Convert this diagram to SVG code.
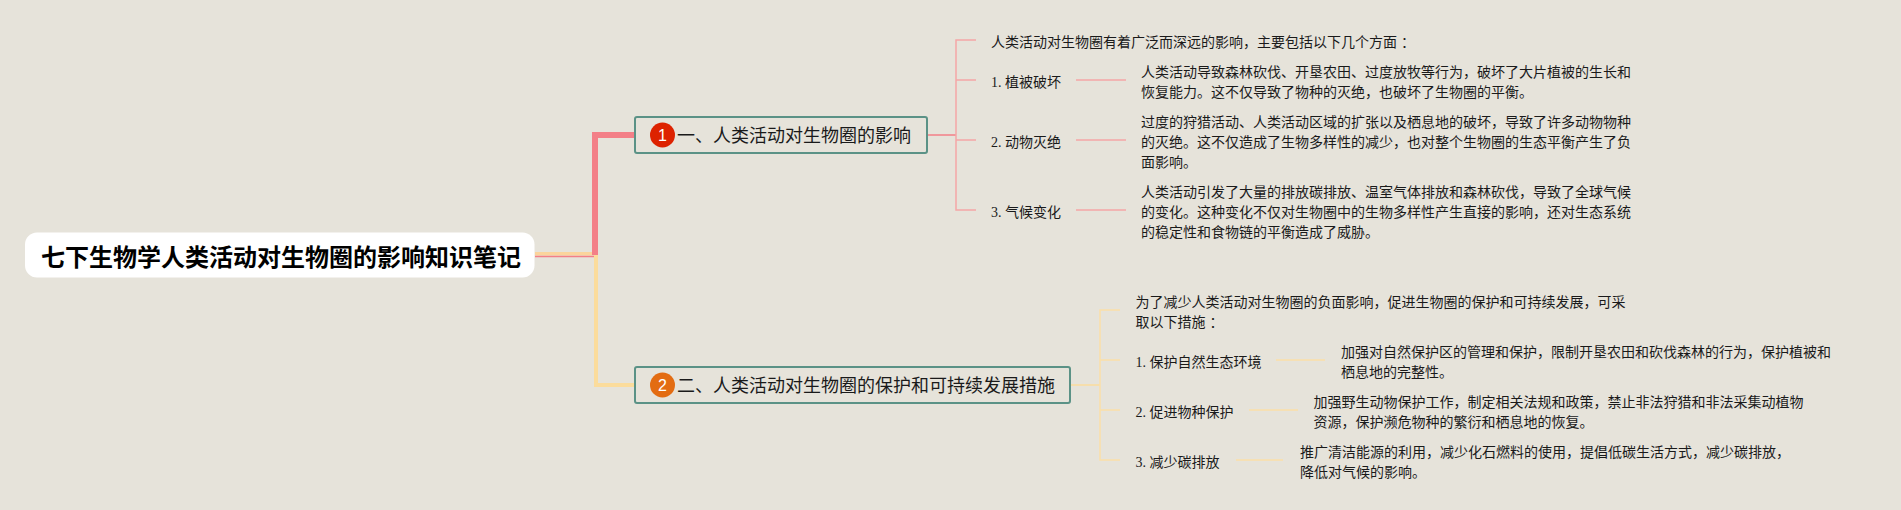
<svg xmlns="http://www.w3.org/2000/svg" width="1901" height="510" viewBox="0 0 1901 510">
<style>
text{font-family:"Noto Sans CJK SC","Liberation Sans",sans-serif;fill:#1a1a1a}
.t{font-size:14px}
.b{font-size:18px}
.r{font-size:24px;font-weight:700;fill:#000}
.box{fill:#e6e3da;stroke:#5b9286;stroke-width:2}
.n{font-family:"Liberation Sans",sans-serif;font-size:16px;fill:#fff;text-anchor:middle}
.d{font-family:"Liberation Serif",serif}
.p{fill:none;stroke:#f5a6a6;stroke-width:1.5}
.y{fill:none;stroke:#fbe0a8;stroke-width:1.5}
</style>
<rect width="1901" height="510" fill="#e6e3da"/>
<g id="connectors">
<path d="M535 253.800H595" fill="none" stroke="#fbd49c" stroke-width="3.500"/>
<path d="M535 256.500H597" fill="none" stroke="#f37f87" stroke-width="1.500"/>
<path d="M596 255V385H635" fill="none" stroke="#fbdc9c" stroke-width="4"/>
<path d="M595 255V135H635" fill="none" stroke="#f37f87" stroke-width="6"/>
<path d="M927 135H956" fill="none" stroke="#f37f87" stroke-width="1.500"/>
<path class="p" d="M976 40H956V210H976M956 80H976M956 140H976M1076 80H1126M1076 140H1126M1076 210H1126"/>
<path d="M1070 385H1100" fill="none" stroke="#fbdc9c" stroke-width="1.500"/>
<path class="y" d="M1120 310H1100V460H1120M1100 360H1120M1100 410H1120M1276 360H1325M1249 410H1298M1236 460H1283"/>
</g>
<g id="root">
<rect x="25" y="232.500" width="509.500" height="45" rx="12" fill="#fff"/>
<text class="r" x="41" y="265.500">七下生物学人类活动对生物圈的影响知识笔记</text>
</g>
<g id="branch1">
<rect class="box" x="635" y="117" width="292" height="36" rx="2"/>
<circle cx="662.500" cy="135" r="12.500" fill="#dd2200"/>
<text class="n" x="662.500" y="141">1</text>
<text class="b" x="677" y="142">一、人类活动对生物圈的影响</text>
</g>
<g id="branch2">
<rect class="box" x="635" y="367" width="435" height="36" rx="2"/>
<circle cx="662.500" cy="385" r="12.500" fill="#e36c12"/>
<text class="n" x="662.500" y="391">2</text>
<text class="b" x="677" y="392">二、人类活动对生物圈的保护和可持续发展措施</text>
</g>
<g id="n1-intro"><text class="t" x="991" y="47">人类活动对生物圈有着广泛而深远的影响，主要包括以下几个方面<tspan dx="4">：</tspan></text></g>
<g id="n1-1"><text class="t" x="991" y="87"><tspan class="d">1. </tspan>植被破坏</text></g>
<g id="n1-1-d"><text class="t" x="1141" y="77">人类活动导致森林砍伐、开垦农田、过度放牧等行为，破坏了大片植被的生长和</text><text class="t" x="1141" y="97">恢复能力。这不仅导致了物种的灭绝，也破坏了生物圈的平衡。</text></g>
<g id="n1-2"><text class="t" x="991" y="147"><tspan class="d">2. </tspan>动物灭绝</text></g>
<g id="n1-2-d"><text class="t" x="1141" y="127">过度的狩猎活动、人类活动区域的扩张以及栖息地的破坏，导致了许多动物物种</text><text class="t" x="1141" y="147">的灭绝。这不仅造成了生物多样性的减少，也对整个生物圈的生态平衡产生了负</text><text class="t" x="1141" y="167">面影响。</text></g>
<g id="n1-3"><text class="t" x="991" y="217"><tspan class="d">3. </tspan>气候变化</text></g>
<g id="n1-3-d"><text class="t" x="1141" y="197">人类活动引发了大量的排放碳排放、温室气体排放和森林砍伐，导致了全球气候</text><text class="t" x="1141" y="217">的变化。这种变化不仅对生物圈中的生物多样性产生直接的影响，还对生态系统</text><text class="t" x="1141" y="237">的稳定性和食物链的平衡造成了威胁。</text></g>
<g id="n2-intro"><text class="t" x="1135.500" y="307">为了减少人类活动对生物圈的负面影响，促进生物圈的保护和可持续发展，可采</text><text class="t" x="1135.500" y="327">取以下措施<tspan dx="4">：</tspan></text></g>
<g id="n2-1"><text class="t" x="1135.500" y="367"><tspan class="d">1. </tspan>保护自然生态环境</text></g>
<g id="n2-1-d"><text class="t" x="1341" y="357">加强对自然保护区的管理和保护，限制开垦农田和砍伐森林的行为，保护植被和</text><text class="t" x="1341" y="377">栖息地的完整性。</text></g>
<g id="n2-2"><text class="t" x="1135.500" y="417"><tspan class="d">2. </tspan>促进物种保护</text></g>
<g id="n2-2-d"><text class="t" x="1313.500" y="407">加强野生动物保护工作，制定相关法规和政策，禁止非法狩猎和非法采集动植物</text><text class="t" x="1313.500" y="427">资源，保护濒危物种的繁衍和栖息地的恢复。</text></g>
<g id="n2-3"><text class="t" x="1135.500" y="467"><tspan class="d">3. </tspan>减少碳排放</text></g>
<g id="n2-3-d"><text class="t" x="1300" y="457">推广清洁能源的利用，减少化石燃料的使用，提倡低碳生活方式，减少碳排放，</text><text class="t" x="1300" y="477">降低对气候的影响。</text></g>
</svg>
